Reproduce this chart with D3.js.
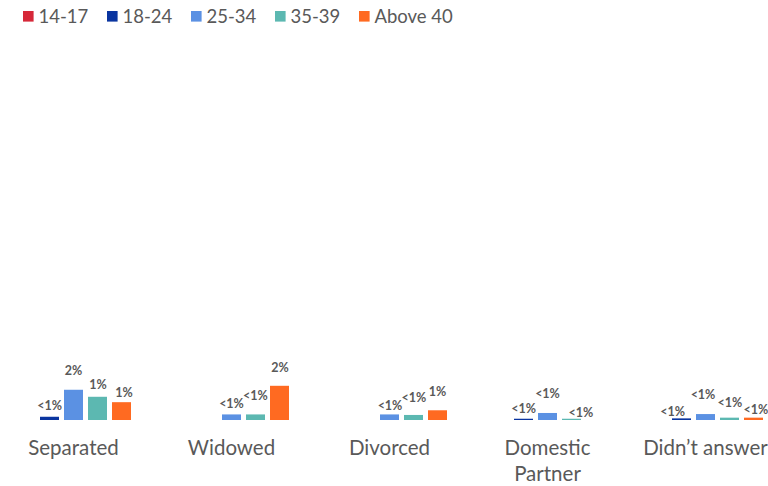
<!DOCTYPE html>
<html>
<head>
<meta charset="utf-8">
<script src="https://cdn.jsdelivr.net/npm/d3@7"></script>
<style>
  html, body { margin: 0; padding: 0; background: #fff; }
  svg { display: block; }
  text { font-family: Lato, "Open Sans", sans-serif; }
</style>
</head>
<body>
<svg id="chart" width="768" height="486"></svg>
<script>
// Marital status by age group (percent of respondents)
const categories = ["Separated", "Widowed", "Divorced", "Domestic Partner", "Didn\u2019t answer"];
const ageGroups = ["14-17", "18-24", "25-34", "35-39", "Above 40"];
const values14to17   = [0,    0,    0,    0,    0];
const values18to24   = [0.18, 0,    0,    0.07, 0.09];
const values25to34   = [1.68, 0.31, 0.31, 0.39, 0.33];
const values35to39   = [1.29, 0.31, 0.28, 0.07, 0.13];
const valuesAbove40  = [0.99, 1.9,  0.54, 0,    0.13];
const seriesValues = [values14to17, values18to24, values25to34, values35to39, valuesAbove40];

const colors = ["#d62839", "#0a35a0", "#5b91e3", "#5cb8b1", "#ff6a21"];

// Hand-placed data label offsets [dx, lift above bar top], per category and age group
const labelPlacement = {
  "Separated":        [null, [0, 7], [0, 14.3], [0.5, 7.7], [2.5, 4.7]],
  "Widowed":          [null, null, [0, 6.7], [0, 14], [0.5, 13.8]],
  "Divorced":         [null, null, [0.5, 4.7], [0.5, 13.3], [0, 14.3]],
  "Domestic Partner": [null, [0, 6], [0, 14.7], [9.5, 2], null],
  "Didn\u2019t answer": [null, [-9, 2.3], [-2.5, 14.7], [0.5, 10.4], [2.5, 3.7]]
};

const svg = d3.select("#chart");

const x0 = d3.scaleBand().domain(categories).range([-5.5, 784.5]).padding(0);
const x1 = d3.scaleBand().domain(ageGroups).range([-60, 60])
  .paddingInner(5 / 24).paddingOuter(0.1042);
const y = d3.scaleLinear().domain([0, 21]).range([420, 42]);
const color = d3.scaleOrdinal().domain(ageGroups).range(colors);

const fmt = v => v < 0.5 ? "<1%" : Math.round(v) + "%";

const rows = [];
categories.forEach((c, ci) => {
  ageGroups.forEach((g, gi) => {
    rows.push({ cat: c, group: g, gi, value: seriesValues[gi][ci] });
  });
});

const groupG = svg.append("g");
const bars = groupG.selectAll("g.cat")
  .data(categories)
  .join("g")
  .attr("class", "cat")
  .attr("transform", c => `translate(${x0(c) + x0.bandwidth() / 2},0)`);

bars.selectAll("rect")
  .data(c => rows.filter(r => r.cat === c && r.value > 0))
  .join("rect")
  .attr("x", d => x1(d.group))
  .attr("width", x1.bandwidth())
  .attr("y", d => y(d.value))
  .attr("height", d => y(0) - y(d.value))
  .attr("fill", d => color(d.group));

bars.selectAll("text.val")
  .data(c => rows.filter(r => r.cat === c && r.value > 0))
  .join("text")
  .attr("class", "val")
  .attr("x", d => {
    const p = labelPlacement[d.cat][d.gi] || [0, 7];
    return x1(d.group) + x1.bandwidth() / 2 + p[0];
  })
  .attr("y", d => {
    const p = labelPlacement[d.cat][d.gi] || [0, 7];
    return y(d.value) - p[1];
  })
  .attr("text-anchor", "middle")
  .attr("font-size", "12.5px")
  .attr("font-weight", "bold")
  .attr("fill", "#595959")
  .text(d => fmt(d.value));

// Category axis labels (no axis line), wrapped onto two lines where needed
const catLabels = svg.append("g");
categories.forEach(c => {
  const words = c === "Domestic Partner" ? ["Domestic", "Partner"] : [c];
  const t = catLabels.append("text")
    .attr("x", x0(c) + x0.bandwidth() / 2)
    .attr("y", 454.5)
    .attr("text-anchor", "middle")
    .attr("font-size", "20.5px")
    .attr("fill", "#595959");
  words.forEach((w, i) => {
    t.append("tspan")
      .attr("x", x0(c) + x0.bandwidth() / 2)
      .attr("dy", i === 0 ? 0 : 26.5)
      .text(w);
  });
});

// Legend
const legend = svg.append("g").attr("transform", "translate(23,0)");
const item = legend.selectAll("g")
  .data(ageGroups)
  .join("g")
  .attr("transform", (d, i) => `translate(${i * 84},0)`);
item.append("rect")
  .attr("x", 0).attr("y", 11)
  .attr("width", 10.6).attr("height", 10.6)
  .attr("fill", d => color(d));
item.append("text")
  .attr("x", 15.5).attr("y", 22.7)
  .attr("font-size", "18.5px")
  .attr("fill", "#595959")
  .text(d => d);
</script>
</body>
</html>
